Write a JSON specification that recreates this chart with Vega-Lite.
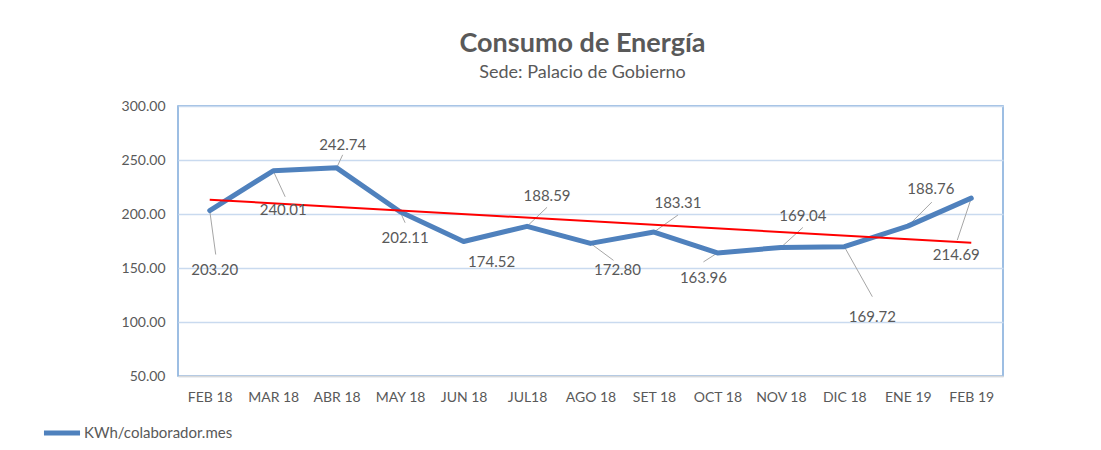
{
  "$schema": "https://vega.github.io/schema/vega-lite/v6.json",
  "width": 825,
  "height": 270,
  "autosize": {"type": "none"},
  "padding": {"left": 178, "top": 106, "right": 98, "bottom": 74},
  "background": "white",
  "config": {
    "font": "Lato",
    "view": {"stroke": "#7DA9DA", "strokeWidth": 1.5},
    "axis": {"labelFont": "Lato", "labelColor": "#595959", "labelFontSize": 14, "ticks": false, "title": null}
  },
  "title": {
    "text": "Consumo de Energía",
    "subtitle": "Sede: Palacio de Gobierno",
    "anchor": "middle",
    "dx": -8,
    "offset": 16,
    "font": "Lato",
    "fontSize": 27,
    "fontWeight": "bold",
    "color": "#595959",
    "subtitleFont": "Lato",
    "subtitleFontSize": 18,
    "subtitleFontWeight": "normal",
    "subtitleColor": "#595959",
    "subtitlePadding": 6
  },
  "data": {
    "values": [
      {"i": 1, "mes": "FEB 18", "v": 203.20},
      {"i": 2, "mes": "MAR 18", "v": 240.01},
      {"i": 3, "mes": "ABR 18", "v": 242.74},
      {"i": 4, "mes": "MAY 18", "v": 202.11},
      {"i": 5, "mes": "JUN 18", "v": 174.52},
      {"i": 6, "mes": "JUL18", "v": 188.59},
      {"i": 7, "mes": "AGO 18", "v": 172.80},
      {"i": 8, "mes": "SET 18", "v": 183.31},
      {"i": 9, "mes": "OCT 18", "v": 163.96},
      {"i": 10, "mes": "NOV 18", "v": 169.04},
      {"i": 11, "mes": "DIC 18", "v": 169.72},
      {"i": 12, "mes": "ENE 19", "v": 188.76},
      {"i": 13, "mes": "FEB 19", "v": 214.69}
    ]
  },
  "encoding": {
    "x": {
      "field": "i",
      "type": "quantitative",
      "scale": {"domain": [0.5, 13.5], "nice": false, "zero": false},
      "axis": {
        "values": [1,2,3,4,5,6,7,8,9,10,11,12,13],
        "labelExpr": "['FEB 18','MAR 18','ABR 18','MAY 18','JUN 18','JUL18','AGO 18','SET 18','OCT 18','NOV 18','DIC 18','ENE 19','FEB 19'][datum.value-1]",
        "grid": false,
        "domainColor": "#D9D9D9",
        "domainWidth": 1.5,
        "labelPadding": 14
      }
    },
    "y": {
      "field": "v",
      "type": "quantitative",
      "scale": {"domain": [50, 300], "nice": false, "zero": false},
      "axis": {
        "values": [50, 100, 150, 200, 250, 300],
        "format": ".2f",
        "domain": false,
        "grid": true,
        "gridColor": "#C9DAEF",
        "gridWidth": 1.5,
        "labelPadding": 13
      }
    }
  },
  "layer": [
    {
      "mark": {"type": "rule", "color": "#A6A6A6", "strokeWidth": 1,
        "x2Offset": {"expr": "[6,12,6,5,0,20,23,24,-14,22,28,24,-14][datum.i-1]"},
        "y2Offset": {"expr": "[44,26,-13,11,0,-19,17,-17,9,-20,50,-24,42][datum.i-1]"}
      },
      "encoding": {
        "x2": {"field": "i"},
        "y2": {"field": "v"}
      }
    },
    {
      "mark": {"type": "line", "strokeWidth": 5, "strokeJoin": "round", "strokeCap": "round"},
      "encoding": {
        "color": {
          "datum": "KWh/colaborador.mes",
          "type": "nominal",
          "scale": {"range": ["#4F81BD"]},
          "legend": {
            "orient": "none",
            "legendX": -137,
            "legendY": 306,
            "title": null,
            "symbolType": "stroke",
            "symbolSize": 1300,
            "symbolStrokeWidth": 5,
            "labelFont": "Lato",
            "labelFontSize": 15,
            "labelColor": "#595959",
            "labelOffset": 1
          }
        }
      }
    },
    {
      "transform": [{"regression": "v", "on": "i", "extent": [1, 13]}],
      "mark": {"type": "line", "color": "#FF0000", "strokeWidth": 2},
      "encoding": {}
    },
    {
      "mark": {"type": "text", "font": "Lato", "fontSize": 15, "color": "#595959", "baseline": "middle", "align": "center",
        "dx": {"expr": "[5,10,6,5,28,20,27,24,-14,22,28,23,-15][datum.i-1]"},
        "dy": {"expr": "[59,39,-23,26,20,-30,27,-29,25,-31,70,-37,57][datum.i-1]"}
      },
      "encoding": {
        "text": {"field": "v", "type": "quantitative", "format": ".2f"}
      }
    }
  ]
}
